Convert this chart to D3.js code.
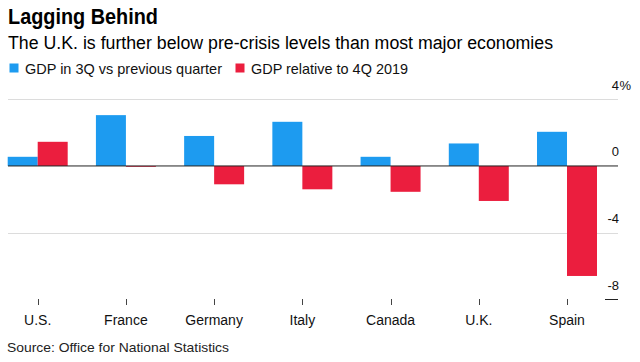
<!DOCTYPE html>
<html>
<head>
<meta charset="utf-8">
<script src="https://cdn.jsdelivr.net/npm/d3@7"></script>
<style>
  html, body { margin: 0; padding: 0; background: #fff; }
  svg { display: block; font-family: "Liberation Sans", Arial, Helvetica, sans-serif; }
</style>
</head>
<body>
<svg id="chart" width="640" height="362"></svg>
<script>
const categories = ["U.S.", "France", "Germany", "Italy", "Canada", "U.K.", "Spain"];
const seriesNames = ["GDP in 3Q vs previous quarter", "GDP relative to 4Q 2019"];
const qoq = [0.55, 3.05, 1.8, 2.65, 0.55, 1.35, 2.05];
const vs4Q2019 = [1.45, -0.05, -1.1, -1.4, -1.55, -2.1, -6.6];
const yTicks = [4, 0, -4, -8];
const colors = ["#1d9bf0", "#eb1e3e"];

const svg = d3.select("#chart");

// Titles
svg.append("text").attr("x", 8).attr("y", 23.5)
  .attr("font-size", 22).attr("font-weight", "bold").attr("fill", "#000")
  .attr("textLength", 150).attr("lengthAdjust", "spacingAndGlyphs")
  .text("Lagging Behind");
svg.append("text").attr("x", 8).attr("y", 48.5)
  .attr("font-size", 18).attr("fill", "#000")
  .attr("textLength", 545).attr("lengthAdjust", "spacingAndGlyphs")
  .text("The U.K. is further below pre-crisis levels than most major economies");

// Legend
const legendPos = [{sx: 9.5, tx: 25, tw: 197}, {sx: 235.5, tx: 251, tw: 157}];
seriesNames.forEach((name, i) => {
  const p = legendPos[i];
  svg.append("rect").attr("x", p.sx).attr("y", 63.5).attr("width", 9).attr("height", 9)
    .attr("fill", colors[i]);
  svg.append("text").attr("x", p.tx).attr("y", 73.5).attr("font-size", 15).attr("fill", "#111")
    .attr("textLength", p.tw).attr("lengthAdjust", "spacingAndGlyphs")
    .text(name);
});

// Scales
const x = d3.scaleBand().domain(categories).range([7.7, 597]).paddingInner(0.32).paddingOuter(0);
const xs = d3.scaleBand().domain([0, 1]).range([0, x.bandwidth()]);
const y = d3.scaleLinear().domain([-8, 4]).range([299.3, 99.3]);

const gridX0 = 8, gridX1 = 618;

// Gridlines (light) for non-zero, non-bottom ticks
svg.append("g").selectAll("line").data(yTicks.filter(t => t !== 0 && t !== -8)).join("line")
  .attr("x1", gridX0).attr("x2", gridX1)
  .attr("y1", d => Math.round(y(d)) + 0.5).attr("y2", d => Math.round(y(d)) + 0.5)
  .attr("stroke", "#dcdcdc").attr("stroke-width", 1);

// Bottom short tick under -8
svg.append("line").attr("x1", 605).attr("x2", gridX1)
  .attr("y1", Math.round(y(-8)) + 0.5).attr("y2", Math.round(y(-8)) + 0.5)
  .attr("stroke", "#222").attr("stroke-width", 1);

// Y labels
const yl = svg.append("g").attr("font-size", 13).attr("fill", "#111");
yTicks.forEach(t => {
  yl.append("text").attr("x", 619).attr("y", y(t) - 9.5).attr("text-anchor", "end")
    .attr("fill", "#111").text(t);
  if (t === yTicks[0]) {
    yl.append("text").attr("x", 619.5).attr("y", y(t) - 9.5).attr("fill", "#111").text("%");
  }
});

// Bars
const data = categories.map((c, i) => ({c, vals: [qoq[i], vs4Q2019[i]]}));
const groups = svg.append("g").selectAll("g").data(data).join("g")
  .attr("transform", d => `translate(${x(d.c)},0)`);
groups.selectAll("rect").data(d => d.vals.map((v, k) => ({v, k}))).join("rect")
  .attr("x", d => xs(d.k))
  .attr("width", xs.bandwidth())
  .attr("y", d => y(Math.max(0, d.v)))
  .attr("height", d => Math.abs(y(d.v) - y(0)))
  .attr("fill", d => colors[d.k]);

// Zero line
svg.append("line").attr("x1", gridX0).attr("x2", gridX1)
  .attr("y1", y(0)).attr("y2", y(0))
  .attr("stroke", "#222").attr("stroke-width", 1);

// X ticks and labels
const xAxis = svg.append("g");
xAxis.selectAll("line").data(categories).join("line")
  .attr("x1", d => Math.round(x(d) + x.bandwidth() / 2) + 0.5)
  .attr("x2", d => Math.round(x(d) + x.bandwidth() / 2) + 0.5)
  .attr("y1", 299).attr("y2", 305)
  .attr("stroke", "#444").attr("stroke-width", 1);
xAxis.selectAll("text").data(categories).join("text")
  .attr("x", d => x(d) + x.bandwidth() / 2).attr("y", 325)
  .attr("text-anchor", "middle").attr("font-size", 14).attr("fill", "#111")
  .text(d => d);

// Source
svg.append("text").attr("x", 7).attr("y", 352).attr("font-size", 13).attr("fill", "#222")
  .attr("textLength", 222).attr("lengthAdjust", "spacingAndGlyphs")
  .text("Source: Office for National Statistics");
</script>
</body>
</html>
